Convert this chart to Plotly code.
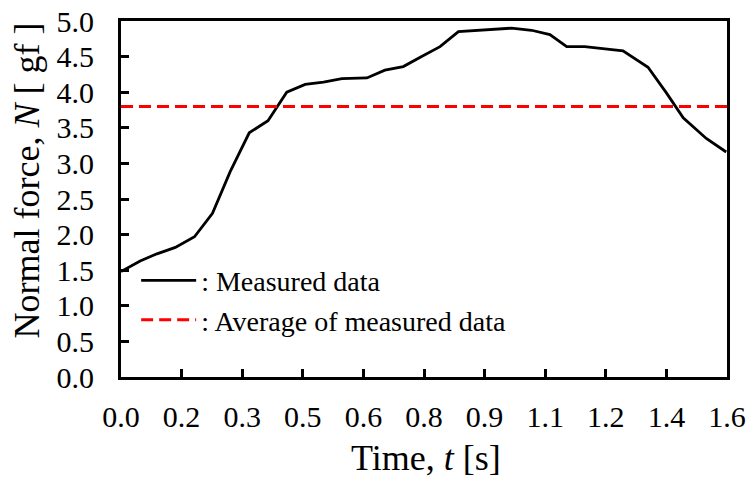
import plotly.graph_objects as go

# Measured normal force over time
time_s = [0.000, 0.049, 0.092, 0.139, 0.188, 0.234, 0.279, 0.328, 0.376, 0.424,
          0.471, 0.518, 0.565, 0.629, 0.675, 0.722, 0.769, 0.816, 0.863, 0.910,
          0.952, 0.999, 1.050, 1.097, 1.140, 1.186, 1.238, 1.284, 1.348, 1.395,
          1.438, 1.497, 1.548]
force_gf = [1.48, 1.63, 1.73, 1.82, 1.97, 2.30, 2.88, 3.43, 3.60, 4.00,
            4.11, 4.14, 4.19, 4.20, 4.31, 4.36, 4.50, 4.64, 4.85, 4.87,
            4.89, 4.90, 4.87, 4.81, 4.64, 4.64, 4.61, 4.58, 4.35, 3.99,
            3.64, 3.35, 3.16]
average_gf = 3.80

x_range = [0.0, 1.55]
x_tickvals = [0.0, 0.155, 0.31, 0.465, 0.62, 0.775, 0.93, 1.085, 1.24, 1.395, 1.55]
x_ticktext = ["0.0", "0.2", "0.3", "0.5", "0.6", "0.8", "0.9", "1.1", "1.2", "1.4", "1.6"]

SERIF = "Liberation Serif, Times New Roman, serif"

fig = go.Figure()
fig.add_trace(go.Scatter(
    x=time_s, y=force_gf, mode="lines", name=": Measured data",
    line=dict(color="black", width=2.8),
))
fig.add_trace(go.Scatter(
    x=x_range, y=[average_gf, average_gf], mode="lines",
    name=": Average of measured data",
    line=dict(color="#ff0000", width=3, dash="12px,6px"),
))

axis_common = dict(
    showline=True, linecolor="black", linewidth=3, mirror=True,
    ticks="inside", ticklen=8, tickwidth=3, tickcolor="black",
    showgrid=False, zeroline=False, automargin=False,
    tickfont=dict(family=SERIF, size=30, color="black"),
)

fig.update_xaxes(range=x_range, tickmode="array", tickvals=x_tickvals,
                 ticktext=x_ticktext, ticklabelstandoff=11, **axis_common)
fig.update_yaxes(range=[0, 5], tickmode="linear", tick0=0, dtick=0.5,
                 tickformat=".1f", ticklabelstandoff=18, **axis_common)

fig.update_layout(
    width=752, height=484,
    margin=dict(l=121, r=25, t=21, b=107, autoexpand=False),
    plot_bgcolor="white", paper_bgcolor="white",
    showlegend=True,
    legend=dict(
        x=0.025, y=0.341, xanchor="left", yanchor="top",
        bgcolor="rgba(0,0,0,0)", borderwidth=0,
        font=dict(family=SERIF, size=28, color="black"),
        itemwidth=55, tracegroupgap=0,
    ),
    annotations=[
        dict(text="Time, <i>t</i> [s]", xref="paper", yref="paper",
             x=0.5025, y=-0.228, xanchor="center", yanchor="middle",
             showarrow=False, font=dict(family=SERIF, size=36, color="black")),
        dict(text="Normal force, <i>N</i> [ gf ]", xref="paper", yref="paper",
             x=-0.155, y=0.5525, xanchor="center", yanchor="middle",
             textangle=-90, showarrow=False,
             font=dict(family=SERIF, size=36, color="black")),
    ],
)

fig.write_html("out.html")
